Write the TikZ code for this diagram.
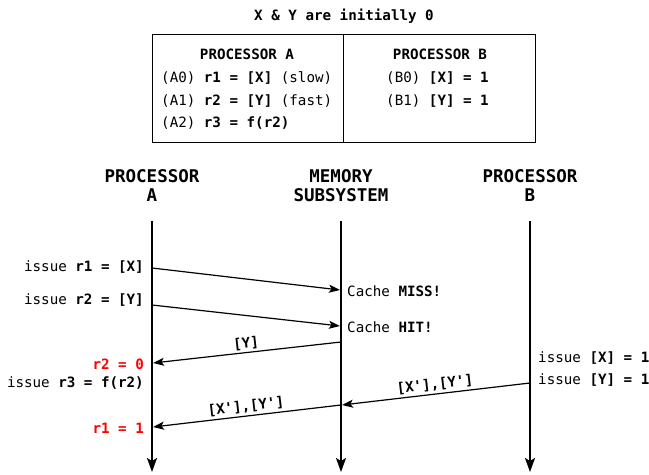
\documentclass[tikz,border=0pt]{standalone}
\usepackage{fontspec}
\setmonofont{DejaVu Sans Mono}
\renewcommand\familydefault{\ttdefault}
\usetikzlibrary{arrows.meta}
\begin{document}
\begin{tikzpicture}[x=1bp,y=-1bp,
  every node/.style={inner sep=0pt,font=\fontsize{14.2bp}{17bp}\selectfont},
  bfont/.style={font=\fontsize{14.2bp}{17bp}\selectfont\bfseries},
  hdr/.style={font=\fontsize{17.5bp}{19bp}\selectfont\bfseries,align=center},
  life/.style={line width=1.8bp,-{Stealth[length=14bp,width=10bp,inset=3bp]}},
  msg/.style={line width=1.2bp,-{Stealth[length=11bp,width=8bp,inset=2.5bp]}},
  lbl/.style={anchor=east},
  rlbl/.style={anchor=west},
  red0/.style={text=red,bfont}
]
\useasboundingbox (0,0) rectangle (649,475);
% table
\node[bfont] (title) at (344,16) {X \& Y are initially 0};
\draw[line width=1bp] (152,35) rectangle (535,143);
\draw[line width=1bp] (343,35) -- (343,143);
\node[bfont] (pa) at (247,54) {PROCESSOR A};
\node[bfont] (pb) at (440,54) {PROCESSOR B};
\node[anchor=west] (a0) at (161,78) {(A0) \textbf{r1 = [X]} (slow)};
\node[anchor=west] (a1) at (161,101) {(A1) \textbf{r2 = [Y]} (fast)};
\node[anchor=west] (a2) at (161,123) {(A2) \textbf{r3 = f(r2)}};
\node[anchor=west] (b0) at (386,78) {(B0) \textbf{[X] = 1}};
\node[anchor=west] (b1) at (386,101) {(B1) \textbf{[Y] = 1}};
% headers
\node[hdr] (hA) at (152,186) {PROCESSOR\\A};
\node[hdr] (hM) at (341,186) {MEMORY\\SUBSYSTEM};
\node[hdr] (hB) at (530,186) {PROCESSOR\\B};
% lifelines
\coordinate (tA) at (152,221); \coordinate (eA) at (152,472);
\coordinate (tM) at (341,221); \coordinate (eM) at (341,472);
\coordinate (tB) at (530,221); \coordinate (eB) at (530,472);
\draw[life] (tA) -- (eA);
\draw[life] (tM) -- (eM);
\draw[life] (tB) -- (eB);
% message points
\coordinate (a1s) at (152,268); \coordinate (m1e) at (340,290);
\coordinate (a2s) at (152,305); \coordinate (m2e) at (340,326);
\coordinate (m3s) at (341,342); \coordinate (a3e) at (153,363);
\coordinate (b4s) at (530,383); \coordinate (m4e) at (342,405);
\coordinate (m5s) at (341,405); \coordinate (a5e) at (153,427);
\draw[msg] (a1s) -- (m1e);
\draw[msg] (a2s) -- (m2e);
\draw[msg] (m3s) -- node[sloped,above=2bp,bfont] (lY) {[Y]} (a3e);
\draw[msg] (b4s) -- node[sloped,above=2bp,bfont] (lXY1) {[X'],[Y']} (m4e);
\draw[msg] (m5s) -- node[sloped,above=2bp,bfont] (lXY2) {[X'],[Y']} (a5e);
% labels
\node[lbl] (i1) at (144,267) {issue \textbf{r1 = [X]}};
\node[lbl] (i2) at (144,300) {issue \textbf{r2 = [Y]}};
\node[lbl,red0] (r2) at (144,364) {r2 = 0};
\node[lbl] (i3) at (144,383) {issue \textbf{r3 = f(r2)}};
\node[lbl,red0] (r1) at (144,428) {r1 = 1};
\node[rlbl] (miss) at (347,291) {Cache \textbf{MISS!}};
\node[rlbl] (hit) at (347,327) {Cache \textbf{HIT!}};
\node[rlbl] (ix) at (538,358) {issue \textbf{[X] = 1}};
\node[rlbl] (iy) at (538,380) {issue \textbf{[Y] = 1}};
\end{tikzpicture}
\end{document}
